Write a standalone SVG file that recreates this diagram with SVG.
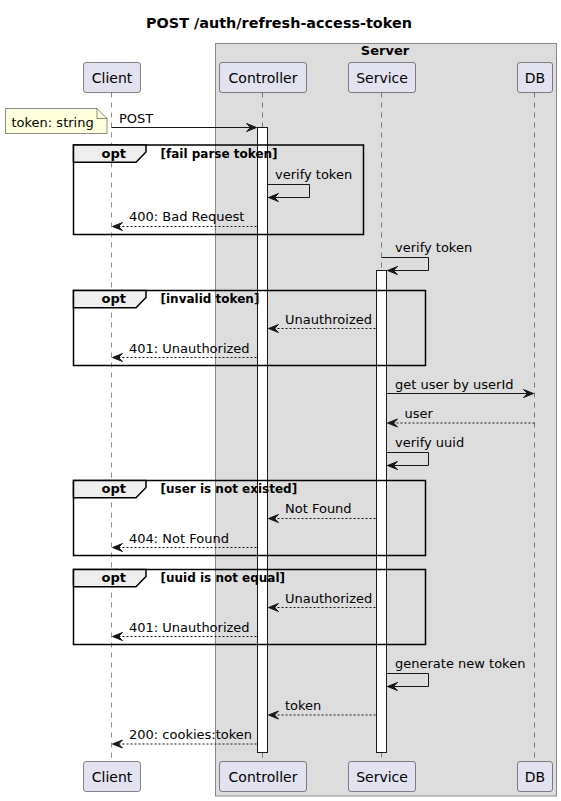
<svg xmlns="http://www.w3.org/2000/svg" width="561" height="801" viewBox="0 0 561 801">
<defs>
<marker id="ah" markerUnits="userSpaceOnUse" markerWidth="12" markerHeight="10" refX="10" refY="4" orient="auto" overflow="visible">
<path d="M0,0 L10,4 L0,8 L4,4 Z" fill="#181818" stroke="#181818" stroke-width="1" stroke-dasharray="none"/>
</marker>
</defs>
<style>
text{font-family:"DejaVu Sans","Liberation Sans",sans-serif;fill:#000}
.title{font-size:14.4px;font-weight:bold}
.pname{font-size:14px}
.msg{font-size:13px}
.opt{font-size:13px;font-weight:bold}
.cond{font-size:12px;font-weight:bold}
.part{fill:#E2E2F0;stroke:#181818;stroke-width:0.5}
.life{stroke:#181818;stroke-width:0.5;stroke-dasharray:5,5;fill:none}
.act{fill:#FFFFFF;stroke:#181818;stroke-width:1}
.m{stroke:#181818;stroke-width:1;fill:none;marker-end:url(#ah)}
.d{stroke-dasharray:2,2}
.frame{fill:none;stroke:#000;stroke-width:1.5}
.tab{fill:#EEEEEE;stroke:#000;stroke-width:1.5}
</style>
<rect width="561" height="801" fill="#FFFFFF"/>
<text class="title" x="279" y="27.5" text-anchor="middle">POST /auth/refresh-access-token</text>

<g id="server-box">
<rect x="215.5" y="43.5" width="341" height="752.5" fill="#DDDDDD" stroke="#888888" stroke-width="1"/>
<text class="opt" x="385" y="55" text-anchor="middle">Server</text>
</g>

<g id="lifelines">
<line class="life" x1="111.5" y1="92.5" x2="111.5" y2="761.5"/>
<line class="life" x1="262.5" y1="92.5" x2="262.5" y2="761.5"/>
<line class="life" x1="381.5" y1="92.5" x2="381.5" y2="761.5"/>
<line class="life" x1="534.5" y1="92.5" x2="534.5" y2="761.5"/>
</g>

<g id="Client">
<rect class="part" x="83.5" y="62.5" width="57" height="30" rx="2.5"/>
<text class="pname" x="112" y="82.5" text-anchor="middle">Client</text>
<rect class="part" x="83.5" y="761.5" width="57" height="30" rx="2.5"/>
<text class="pname" x="112" y="781.5" text-anchor="middle">Client</text>
</g>
<g id="Controller">
<rect class="part" x="219.5" y="62.5" width="87" height="30" rx="2.5"/>
<text class="pname" x="263" y="82.5" text-anchor="middle">Controller</text>
<rect class="part" x="219.5" y="761.5" width="87" height="30" rx="2.5"/>
<text class="pname" x="263" y="781.5" text-anchor="middle">Controller</text>
</g>
<g id="Service">
<rect class="part" x="348.5" y="62.5" width="67" height="30" rx="2.5"/>
<text class="pname" x="382" y="82.5" text-anchor="middle">Service</text>
<rect class="part" x="348.5" y="761.5" width="67" height="30" rx="2.5"/>
<text class="pname" x="382" y="781.5" text-anchor="middle">Service</text>
</g>
<g id="DB">
<rect class="part" x="517.5" y="62.5" width="35" height="30" rx="2.5"/>
<text class="pname" x="535" y="82.5" text-anchor="middle">DB</text>
<rect class="part" x="517.5" y="761.5" width="35" height="30" rx="2.5"/>
<text class="pname" x="535" y="781.5" text-anchor="middle">DB</text>
</g>

<g id="activations">
<rect class="act" x="257.5" y="127.5" width="10" height="625"/>
<rect class="act" x="376.5" y="270.5" width="10" height="482"/>
</g>

<g id="note">
<path d="M5.5,108.5 L97,108.5 L107,118.5 L107,133.5 L5.5,133.5 Z" fill="#FEFFDD" stroke="#181818" stroke-width="0.5"/>
<path d="M97,108.5 L97,118.5 L107,118.5" fill="none" stroke="#181818" stroke-width="0.5"/>
<text class="msg" x="11.5" y="126.5">token: string</text>
</g>

<g id="frames">
<g id="opt1">
<rect class="frame" x="73.5" y="145" width="290" height="89.5"/>
<path class="tab" d="M73.5,145 L146,145 L146,152 L136,162.3 L73.5,162.3 Z"/>
<text class="opt" x="101.5" y="158">opt</text>
<text class="cond" x="160.5" y="157.5">[fail parse token]</text>
</g>
<g id="opt2">
<rect class="frame" x="73.5" y="290.5" width="352" height="75"/>
<path class="tab" d="M73.5,290.5 L146,290.5 L146,297.5 L136,307.8 L73.5,307.8 Z"/>
<text class="opt" x="101.5" y="303">opt</text>
<text class="cond" x="160.5" y="302.5">[invalid token]</text>
</g>
<g id="opt3">
<rect class="frame" x="73.5" y="480.5" width="352" height="75"/>
<path class="tab" d="M73.5,480.5 L146,480.5 L146,487.5 L136,497.8 L73.5,497.8 Z"/>
<text class="opt" x="101.5" y="493">opt</text>
<text class="cond" x="160.5" y="492.5">[user is not existed]</text>
</g>
<g id="opt4">
<rect class="frame" x="73.5" y="569.5" width="352" height="75"/>
<path class="tab" d="M73.5,569.5 L146,569.5 L146,576.5 L136,586.8 L73.5,586.8 Z"/>
<text class="opt" x="101.5" y="582">opt</text>
<text class="cond" x="160.5" y="581.5">[uuid is not equal]</text>
</g>
</g>

<g id="connectors">
<line class="m" x1="111.5" y1="127.5" x2="256.5" y2="127.5"/>
<text class="msg" x="119" y="122.5">POST</text>

<polyline class="m" points="267.5,184.5 309.5,184.5 309.5,197.5 268.5,197.5"/>
<text class="msg" x="275" y="178.5">verify token</text>

<line class="m d" x1="256.5" y1="226.5" x2="112.5" y2="226.5"/>
<text class="msg" x="129" y="221">400: Bad Request</text>

<polyline class="m" points="381.5,257.5 428.5,257.5 428.5,270.5 387.5,270.5"/>
<text class="msg" x="395" y="251.5">verify token</text>

<line class="m d" x1="375.5" y1="328.5" x2="268.5" y2="328.5"/>
<text class="msg" x="285" y="323.5">Unauthroized</text>

<line class="m d" x1="256.5" y1="357.5" x2="112.5" y2="357.5"/>
<text class="msg" x="129" y="352.5">401: Unauthorized</text>

<line class="m" x1="386.5" y1="393.5" x2="533.5" y2="393.5"/>
<text class="msg" x="395" y="388.5">get user by userId</text>

<line class="m d" x1="534.5" y1="423" x2="387.5" y2="423"/>
<text class="msg" x="404.5" y="418">user</text>

<polyline class="m" points="386.5,452.5 428.5,452.5 428.5,465.5 387.5,465.5"/>
<text class="msg" x="395" y="447">verify uuid</text>

<line class="m d" x1="375.5" y1="518.5" x2="268.5" y2="518.5"/>
<text class="msg" x="285" y="513">Not Found</text>

<line class="m d" x1="256.5" y1="547.5" x2="112.5" y2="547.5"/>
<text class="msg" x="129" y="542.5">404: Not Found</text>

<line class="m d" x1="375.5" y1="607.5" x2="268.5" y2="607.5"/>
<text class="msg" x="285" y="602.5">Unauthorized</text>

<line class="m d" x1="256.5" y1="636.5" x2="112.5" y2="636.5"/>
<text class="msg" x="129" y="631.5">401: Unauthorized</text>

<polyline class="m" points="386.5,673.5 428.5,673.5 428.5,686.5 387.5,686.5"/>
<text class="msg" x="395" y="668">generate new token</text>

<line class="m d" x1="375.5" y1="715" x2="268.5" y2="715"/>
<text class="msg" x="285" y="710">token</text>

<line class="m d" x1="256.5" y1="744" x2="112.5" y2="744"/>
<text class="msg" x="129" y="739">200: cookies:token</text>
</g>
</svg>
